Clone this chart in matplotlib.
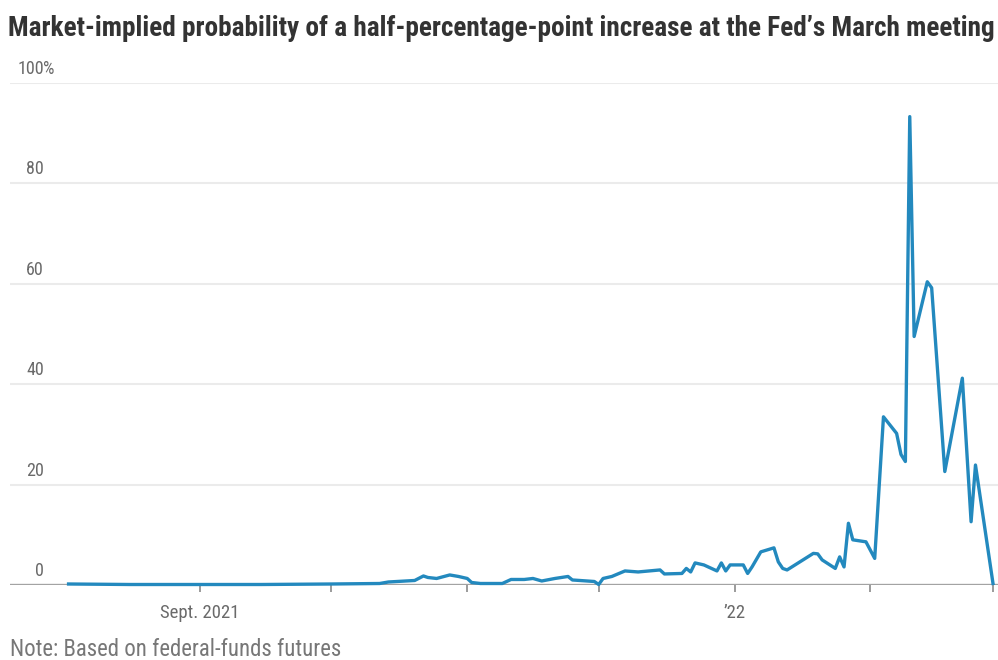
import matplotlib
matplotlib.use("Agg")
import matplotlib.pyplot as plt
import matplotlib.dates as mdates
import matplotlib.transforms as mtransforms
from matplotlib import font_manager as fm
import numpy as np
import datetime as dt

# ---------------- data ----------------
dates = [
    "2021-08-02", "2021-08-16", "2021-09-01", "2021-09-15", "2021-10-01",
    "2021-10-12", "2021-10-14", "2021-10-20", "2021-10-22", "2021-10-23",
    "2021-10-25", "2021-10-28", "2021-10-30", "2021-11-01", "2021-11-02",
    "2021-11-04", "2021-11-09", "2021-11-11", "2021-11-14", "2021-11-16",
    "2021-11-18", "2021-11-21", "2021-11-24", "2021-11-25", "2021-11-30",
    "2021-12-01", "2021-12-02", "2021-12-04", "2021-12-07", "2021-12-10",
    "2021-12-15", "2021-12-16", "2021-12-20", "2021-12-21", "2021-12-22",
    "2021-12-23", "2021-12-25", "2021-12-28", "2021-12-29", "2021-12-30",
    "2021-12-31", "2022-01-03", "2022-01-04", "2022-01-05", "2022-01-07",
    "2022-01-10", "2022-01-11", "2022-01-12", "2022-01-13", "2022-01-19",
    "2022-01-20", "2022-01-21", "2022-01-24", "2022-01-25", "2022-01-26",
    "2022-01-27", "2022-01-28", "2022-01-31", "2022-02-02", "2022-02-04",
    "2022-02-07", "2022-02-08", "2022-02-09", "2022-02-10", "2022-02-11",
    "2022-02-14", "2022-02-15", "2022-02-18", "2022-02-22", "2022-02-24",
    "2022-02-25", "2022-03-01",
]
probability = [
    0.2, 0.1, 0.1, 0.1, 0.2,
    0.3, 0.6, 0.9, 1.8, 1.5,
    1.3, 2.0, 1.7, 1.3, 0.5,
    0.3, 0.3, 1.1, 1.1, 1.3,
    0.8, 1.3, 1.7, 1.0, 0.7,
    0.1, 1.3, 1.7, 2.8, 2.6,
    3.0, 2.2, 2.3, 3.3, 2.6,
    4.4, 4.0, 2.8, 4.4, 2.8,
    4.0, 4.0, 2.3, 3.6, 6.6,
    7.4, 4.6, 3.3, 3.0, 6.3,
    6.2, 5.0, 3.3, 5.6, 3.6,
    12.3, 9.0, 8.6, 5.3, 33.5,
    30.2, 26.0, 24.6, 93.3, 49.5,
    60.4, 59.2, 22.6, 41.2, 12.6,
    23.9, 0.3,
]
y_ticks = [0, 20, 40, 60, 80, 100]
x_tick_dates = ["2021-09-01", "2021-10-01", "2021-11-01", "2021-12-01",
                "2022-01-01", "2022-02-01", "2022-03-01"]
x_tick_labels = ["Sept. 2021", "", "", "", "\u201922", "", ""]

title = "Market-implied probability of a half-percentage-point increase at the Fed\u2019s March meeting"
note = "Note: Based on federal-funds futures"

# ---------------- fonts ----------------
def has_font(name):
    try:
        fm.findfont(fm.FontProperties(family=name), fallback_to_default=False)
        return True
    except Exception:
        return False

family = "DejaVu Sans"
for cand in ["Liberation Sans Narrow", "Roboto Condensed", "Open Sans Condensed", "Liberation Sans"]:
    if has_font(cand):
        family = cand
        break
plt.rcParams["font.family"] = [family, "DejaVu Sans"]

# ---------------- figure ----------------
W, H = 998, 660
fig = plt.figure(figsize=(W / 100, H / 100), dpi=100)
fig.patch.set_facecolor("white")

ax_left, ax_right = 10, 998
y0_px, y100_px = 585, 83
ax = fig.add_axes([ax_left / W, (H - y0_px) / H, (ax_right - ax_left) / W, (y0_px - y100_px) / H])
ax.set_facecolor("white")

x = [mdates.date2num(dt.datetime.strptime(d, "%Y-%m-%d")) for d in dates]
sep1 = mdates.date2num(dt.datetime(2021, 9, 1))
px_per_day = (993 - 200) / 181.0
ax.set_xlim(sep1 - (200 - ax_left) / px_per_day, sep1 + (ax_right - 200) / px_per_day)
ax.set_ylim(0, 100)

# gridlines
for v in y_ticks[1:]:
    ax.axhline(v, color="#ebebeb", lw=1.5, zorder=1)

ax.plot(x, probability, color="#2389be", lw=2.4, solid_joinstyle="round", zorder=3, clip_on=False)
ax.axhline(0, color="#a3a3a3", lw=2.4, zorder=2)

for s in ax.spines.values():
    s.set_visible(False)

xt = [mdates.date2num(dt.datetime.strptime(d, "%Y-%m-%d")) for d in x_tick_dates]
ax.set_xticks(xt)
ax.set_xticklabels(x_tick_labels)
ax.tick_params(axis="x", length=5, width=1.2, color="#8a8a8a", pad=9,
               labelsize=13.5, labelcolor="#6a6a6a")
ax.set_yticks([])

# y labels inside plot, above gridlines
trans = mtransforms.blended_transform_factory(fig.transFigure, ax.transData)
for v in y_ticks:
    off = mtransforms.offset_copy(trans, fig=fig, x=0, y=5, units="dots")
    ax.text(44 / W, v, str(v), transform=off, ha="right", va="bottom",
            fontsize=13, color="#6a6a6a")
    if v == 100:
        ax.text(43 / W, v, "%", transform=off, ha="left", va="bottom",
                fontsize=13, color="#6a6a6a")

t_title = fig.text(8 / W, 1 - 28 / H, title, ha="left", va="center",
                   fontsize=16, fontweight="bold", color="#333333")
t_note = fig.text(10 / W, 1 - 650 / H, note, ha="left", va="center",
                  fontsize=12, color="#777777")

# fit text widths to the reference
fig.canvas.draw()
r = fig.canvas.get_renderer()
def fit(t, target):
    w = t.get_window_extent(r).width
    t.set_fontsize(t.get_fontsize() * target / w)
fit(t_title, 987)
fit(t_note, 330)
fig.savefig("out.png", dpi=100, facecolor="white")
